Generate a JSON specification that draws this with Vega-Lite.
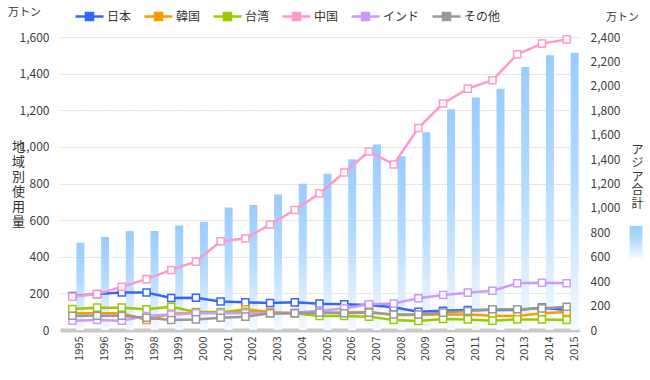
{
  "$schema": "https://vega.github.io/schema/vega-lite/v6.json",
  "width": 519,
  "height": 293,
  "autosize": "none",
  "padding": {"left": 60, "top": 37, "right": 71, "bottom": 50},
  "datasets": {
    "asia": [
      {"year": "1995", "total": 714}, {"year": "1996", "total": 761}, {"year": "1997", "total": 810},
      {"year": "1998", "total": 810}, {"year": "1999", "total": 856}, {"year": "2000", "total": 886},
      {"year": "2001", "total": 1004}, {"year": "2002", "total": 1023}, {"year": "2003", "total": 1110},
      {"year": "2004", "total": 1197}, {"year": "2005", "total": 1279}, {"year": "2006", "total": 1399},
      {"year": "2007", "total": 1519}, {"year": "2008", "total": 1424}, {"year": "2009", "total": 1620},
      {"year": "2010", "total": 1808}, {"year": "2011", "total": 1904}, {"year": "2012", "total": 1977},
      {"year": "2013", "total": 2154}, {"year": "2014", "total": 2250}, {"year": "2015", "total": 2272}
    ],
    "regions": [
      {"year": "1995", "region": "日本", "value": 185}, {"year": "1996", "region": "日本", "value": 196},
      {"year": "1997", "region": "日本", "value": 205}, {"year": "1998", "region": "日本", "value": 205},
      {"year": "1999", "region": "日本", "value": 175}, {"year": "2000", "region": "日本", "value": 176},
      {"year": "2001", "region": "日本", "value": 156}, {"year": "2002", "region": "日本", "value": 151},
      {"year": "2003", "region": "日本", "value": 147}, {"year": "2004", "region": "日本", "value": 151},
      {"year": "2005", "region": "日本", "value": 144}, {"year": "2006", "region": "日本", "value": 140},
      {"year": "2007", "region": "日本", "value": 136}, {"year": "2008", "region": "日本", "value": 124},
      {"year": "2009", "region": "日本", "value": 100}, {"year": "2010", "region": "日本", "value": 105},
      {"year": "2011", "region": "日本", "value": 109}, {"year": "2012", "region": "日本", "value": 109},
      {"year": "2013", "region": "日本", "value": 109}, {"year": "2014", "region": "日本", "value": 122},
      {"year": "2015", "region": "日本", "value": 109},

      {"year": "1995", "region": "韓国", "value": 91}, {"year": "1996", "region": "韓国", "value": 91},
      {"year": "1997", "region": "韓国", "value": 91}, {"year": "1998", "region": "韓国", "value": 55},
      {"year": "1999", "region": "韓国", "value": 89}, {"year": "2000", "region": "韓国", "value": 95},
      {"year": "2001", "region": "韓国", "value": 95}, {"year": "2002", "region": "韓国", "value": 113},
      {"year": "2003", "region": "韓国", "value": 98}, {"year": "2004", "region": "韓国", "value": 91},
      {"year": "2005", "region": "韓国", "value": 93}, {"year": "2006", "region": "韓国", "value": 95},
      {"year": "2007", "region": "韓国", "value": 98}, {"year": "2008", "region": "韓国", "value": 82},
      {"year": "2009", "region": "韓国", "value": 82}, {"year": "2010", "region": "韓国", "value": 85},
      {"year": "2011", "region": "韓国", "value": 85}, {"year": "2012", "region": "韓国", "value": 78},
      {"year": "2013", "region": "韓国", "value": 76}, {"year": "2014", "region": "韓国", "value": 91},
      {"year": "2015", "region": "韓国", "value": 98},

      {"year": "1995", "region": "台湾", "value": 115}, {"year": "1996", "region": "台湾", "value": 122},
      {"year": "1997", "region": "台湾", "value": 122}, {"year": "1998", "region": "台湾", "value": 113},
      {"year": "1999", "region": "台湾", "value": 127}, {"year": "2000", "region": "台湾", "value": 98},
      {"year": "2001", "region": "台湾", "value": 98}, {"year": "2002", "region": "台湾", "value": 100},
      {"year": "2003", "region": "台湾", "value": 91}, {"year": "2004", "region": "台湾", "value": 91},
      {"year": "2005", "region": "台湾", "value": 76}, {"year": "2006", "region": "台湾", "value": 76},
      {"year": "2007", "region": "台湾", "value": 73}, {"year": "2008", "region": "台湾", "value": 55},
      {"year": "2009", "region": "台湾", "value": 49}, {"year": "2010", "region": "台湾", "value": 60},
      {"year": "2011", "region": "台湾", "value": 58}, {"year": "2012", "region": "台湾", "value": 51},
      {"year": "2013", "region": "台湾", "value": 58}, {"year": "2014", "region": "台湾", "value": 58},
      {"year": "2015", "region": "台湾", "value": 55},

      {"year": "1995", "region": "中国", "value": 182}, {"year": "1996", "region": "中国", "value": 196},
      {"year": "1997", "region": "中国", "value": 236}, {"year": "1998", "region": "中国", "value": 278},
      {"year": "1999", "region": "中国", "value": 328}, {"year": "2000", "region": "中国", "value": 373},
      {"year": "2001", "region": "中国", "value": 485}, {"year": "2002", "region": "中国", "value": 500},
      {"year": "2003", "region": "中国", "value": 576}, {"year": "2004", "region": "中国", "value": 655},
      {"year": "2005", "region": "中国", "value": 746}, {"year": "2006", "region": "中国", "value": 860},
      {"year": "2007", "region": "中国", "value": 975}, {"year": "2008", "region": "中国", "value": 904},
      {"year": "2009", "region": "中国", "value": 1103}, {"year": "2010", "region": "中国", "value": 1237},
      {"year": "2011", "region": "中国", "value": 1318}, {"year": "2012", "region": "中国", "value": 1364},
      {"year": "2013", "region": "中国", "value": 1505}, {"year": "2014", "region": "中国", "value": 1564},
      {"year": "2015", "region": "中国", "value": 1587},

      {"year": "1995", "region": "インド", "value": 51}, {"year": "1996", "region": "インド", "value": 55},
      {"year": "1997", "region": "インド", "value": 51}, {"year": "1998", "region": "インド", "value": 76},
      {"year": "1999", "region": "インド", "value": 85}, {"year": "2000", "region": "インド", "value": 91},
      {"year": "2001", "region": "インド", "value": 91}, {"year": "2002", "region": "インド", "value": 91},
      {"year": "2003", "region": "インド", "value": 91}, {"year": "2004", "region": "インド", "value": 95},
      {"year": "2005", "region": "インド", "value": 105}, {"year": "2006", "region": "インド", "value": 118},
      {"year": "2007", "region": "インド", "value": 140}, {"year": "2008", "region": "インド", "value": 145},
      {"year": "2009", "region": "インド", "value": 173}, {"year": "2010", "region": "インド", "value": 191},
      {"year": "2011", "region": "インド", "value": 204}, {"year": "2012", "region": "インド", "value": 214},
      {"year": "2013", "region": "インド", "value": 255}, {"year": "2014", "region": "インド", "value": 258},
      {"year": "2015", "region": "インド", "value": 255},

      {"year": "1995", "region": "その他", "value": 78}, {"year": "1996", "region": "その他", "value": 78},
      {"year": "1997", "region": "その他", "value": 78}, {"year": "1998", "region": "その他", "value": 67},
      {"year": "1999", "region": "その他", "value": 55}, {"year": "2000", "region": "その他", "value": 58},
      {"year": "2001", "region": "その他", "value": 67}, {"year": "2002", "region": "その他", "value": 73},
      {"year": "2003", "region": "その他", "value": 91}, {"year": "2004", "region": "その他", "value": 91},
      {"year": "2005", "region": "その他", "value": 95}, {"year": "2006", "region": "その他", "value": 91},
      {"year": "2007", "region": "その他", "value": 95}, {"year": "2008", "region": "その他", "value": 85},
      {"year": "2009", "region": "その他", "value": 85}, {"year": "2010", "region": "その他", "value": 95},
      {"year": "2011", "region": "その他", "value": 104}, {"year": "2012", "region": "その他", "value": 113},
      {"year": "2013", "region": "その他", "value": 113}, {"year": "2014", "region": "その他", "value": 118},
      {"year": "2015", "region": "その他", "value": 127}
    ]
  },
  "encoding": {
    "x": {
      "field": "year", "type": "ordinal",
      "scale": {"type": "band", "paddingInner": 0, "paddingOuter": 0},
      "axis": {
        "title": ["ア", "ジ", "ア", "合", "計"], "titleAngle": 0, "titleX": 577, "titleY": -186,
        "titleBaseline": "top", "titleAlign": "center", "titleLineHeight": 13.5,
        "titleFontSize": 12, "titleFontWeight": "normal", "titleColor": "#333333",
        "labelAngle": -90, "labelAlign": "right", "labelBaseline": "middle",
        "labelOffset": 8, "labelPadding": 6, "labelFontSize": 11,
        "ticks": false, "domainColor": "#c8c8c8", "domainWidth": 4, "grid": false
      }
    }
  },
  "layer": [
    {
      "data": {"name": "asia"},
      "mark": {
        "type": "bar", "width": 8, "xOffset": 8,
        "color": {"gradient": "linear", "x1": 0, "y1": 0, "x2": 0, "y2": 1,
          "stops": [{"offset": 0, "color": "#99ccff"}, {"offset": 0.45, "color": "#b3dbff"}, {"offset": 1, "color": "#f4faff"}]}
      },
      "encoding": {
        "y": {
          "field": "total", "type": "quantitative",
          "scale": {"domain": [0, 2400], "nice": false},
          "axis": {
            "orient": "right", "values": [0, 200, 400, 600, 800, 1000, 1200, 1400, 1600, 1800, 2000, 2200, 2400],
            "format": ",.0f", "grid": false, "ticks": false, "domain": false, "labelPadding": 11,
            "title": "万トン", "titleAngle": 0, "titleX": 43, "titleY": -20,
            "titleBaseline": "middle", "titleAlign": "center",
            "titleFontSize": 11, "titleFontWeight": "normal", "titleColor": "#333333"
          }
        },
        "opacity": {
          "datum": "アジア合計", "type": "nominal",
          "scale": {"range": [1]},
          "legend": {
            "orient": "none", "legendX": 560, "legendY": 189, "padding": 0, "title": null,
            "labelExpr": "''", "labelOffset": 0, "symbolType": "M-0.4,-1H0.4V1H-0.4Z", "symbolSize": 1024,
            "symbolFillColor": {"gradient": "linear", "x1": 0, "y1": 0, "x2": 0, "y2": 1,
              "stops": [{"offset": 0, "color": "#99ccff"}, {"offset": 1, "color": "#f4faff"}]},
            "symbolStrokeWidth": 0, "symbolOpacity": 1
          }
        }
      }
    },
    {
      "data": {"name": "regions"},
      "encoding": {
        "y": {
          "field": "value", "type": "quantitative",
          "scale": {"domain": [0, 1600], "nice": false},
          "axis": {
            "orient": "left", "values": [0, 200, 400, 600, 800, 1000, 1200, 1400, 1600],
            "format": ",.0f", "grid": true, "gridColor": "#d9d9d9", "gridDash": [2, 1], "gridWidth": 1,
            "ticks": false, "domain": false, "labelPadding": 11,
            "title": ["地", "域", "別", "使", "用", "量"], "titleAngle": 0, "titleX": -42, "titleY": 103,
            "titleAlign": "center", "titleBaseline": "top", "titleLineHeight": 15,
            "titleFontSize": 13, "titleFontWeight": "normal", "titleColor": "#333333"
          }
        },
        "color": {
          "field": "region", "type": "nominal",
          "scale": {
            "domain": ["日本", "韓国", "台湾", "中国", "インド", "その他"],
            "range": ["#3366ff", "#ff9900", "#99cc00", "#ff99cc", "#cc99ff", "#999999"]
          },
          "legend": {
            "orient": "none", "direction": "horizontal", "legendX": -52, "legendY": -36,
            "title": "万トン", "titleOrient": "left", "titlePadding": 33,
            "titleFontSize": 11, "titleFontWeight": "normal", "titleColor": "#333333",
            "symbolType": "M-1,0H-0.25M0.25,0H1M-0.25,-0.25H0.25V0.25H-0.25Z",
            "symbolSize": 784, "symbolStrokeWidth": 2.5, "symbolFillColor": "white",
            "labelFontSize": 12, "labelColor": "#333333", "labelOffset": 2, "columnPadding": 7
          }
        }
      },
      "layer": [
        {"mark": {"type": "line", "strokeWidth": 2.5}},
        {"mark": {"type": "point", "shape": "square", "filled": true, "fill": "white", "size": 50, "strokeWidth": 1.5, "opacity": 1},
         "encoding": {"stroke": {"field": "region", "type": "nominal", "legend": null, "scale": {"domain": ["日本", "韓国", "台湾", "中国", "インド", "その他"], "range": ["#3366ff", "#ff9900", "#99cc00", "#ff99cc", "#cc99ff", "#999999"]}}}}
      ]
    }
  ],
  "resolve": {"scale": {"y": "independent"}},
  "config": {
    "view": {"stroke": null},
    "font": "Noto Sans CJK JP",
    "axis": {"labelFont": "Noto Sans CJK JP", "labelColor": "#404040", "labelFontSize": 12, "titleFont": "Noto Sans CJK JP"},
    "legend": {"labelFont": "Noto Sans CJK JP", "titleFont": "Noto Sans CJK JP"}
  }
}
